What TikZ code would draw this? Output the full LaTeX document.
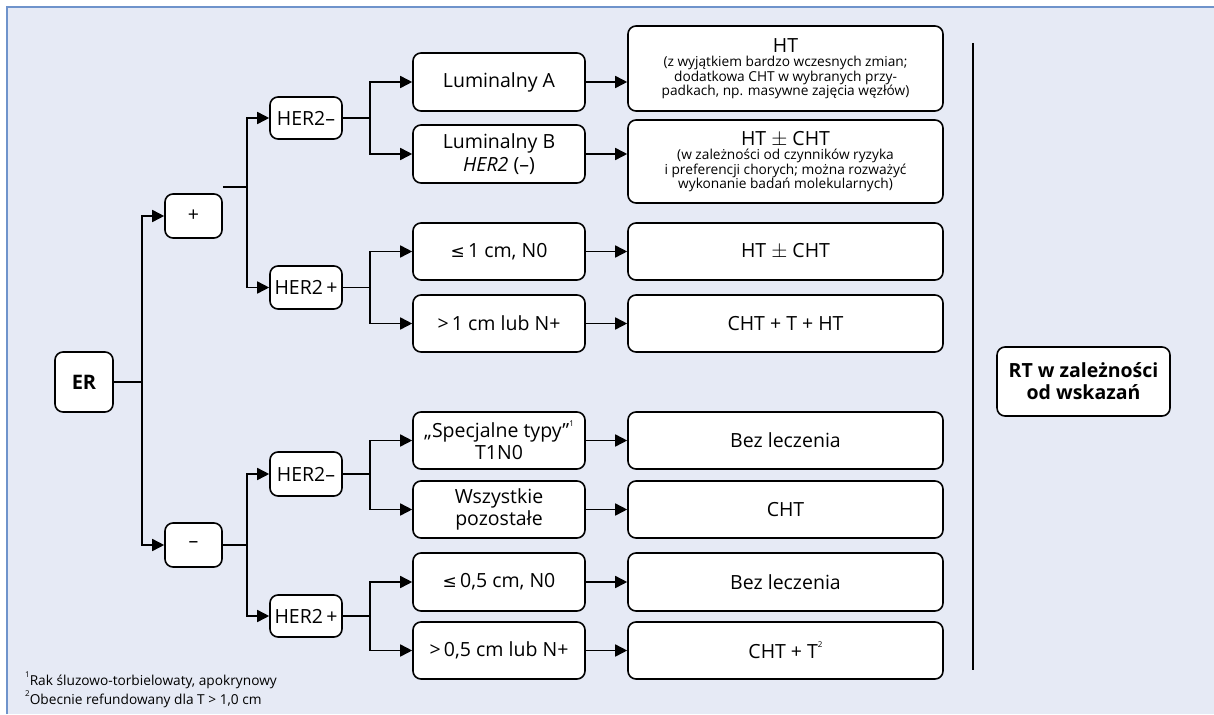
\documentclass[tikz,border=0pt]{standalone}
\usepackage{fontspec}
\setmainfont{Open Sans}
\newfontfamily\djv{DejaVu Sans}
\usetikzlibrary{arrows.meta}
\definecolor{bgc}{HTML}{E6EAF5}
\definecolor{framec}{HTML}{6F93CB}
\newcommand{\smallfnt}{\fontsize{13.7}{14.5}\selectfont}
\newcommand{\supx}[1]{\raisebox{0.55em}{\fontsize{8}{8}\selectfont #1}}
\begin{document}
\begin{tikzpicture}[x=1pt,y=-1pt,
  box/.style={draw=black, line width=1.6pt, fill=white, rounded corners=8pt, align=center,
    inner sep=0pt, font=\fontsize{19.5}{23}\selectfont},
  conn/.style={line width=1.6pt},
  arr/.style={conn, -{Triangle[length=12pt,width=12pt]}},
  fnote/.style={anchor=base west, inner sep=0pt, font=\fontsize{13.7}{14.5}\selectfont}
]
\useasboundingbox (0,0) rectangle (1214,714);
\fill[bgc] (7,7) rectangle (1214,714);
\draw[framec, line width=1.2pt] (7,714) -- (7,7) -- (1214,7);

% level 0-2
\node[box, minimum width=58pt, minimum height=60pt, font=\fontsize{20}{22}\selectfont\bfseries] (er) at (84,382) {ER};
\node[box, minimum width=57pt, minimum height=44pt] (plus) at (193.5,216) {+};
\node[box, minimum width=57pt, minimum height=44pt] (minus) at (193.5,545) {–};
\node[box, minimum width=72pt, minimum height=42pt] (h1) at (306,118) {HER2–};
\node[box, minimum width=72pt, minimum height=43pt] (h2) at (306,287.5) {HER2\,+};
\node[box, minimum width=72pt, minimum height=44pt] (h3) at (306,474) {HER2–};
\node[box, minimum width=72pt, minimum height=42pt] (h4) at (306,616) {HER2\,+};

% middle column
\node[box, minimum width=172pt, minimum height=58pt] (m1) at (499,82) {Luminalny A};
\node[box, minimum width=172pt, minimum height=58pt] (m2) at (499,154) {Luminalny B\\\textit{HER2} (–)};
\node[box, minimum width=172pt, minimum height=57pt] (m3) at (499,251.5) {{\djv\fontsize{17}{19}\selectfont ≤}\,1 cm, N0};
\node[box, minimum width=172pt, minimum height=57pt] (m4) at (499,323.5) {>\,1 cm lub N+};
\node[box, minimum width=172pt, minimum height=57pt, font=\fontsize{19.5}{22}\selectfont] (m5) at (499,440.5) {„Specjalne typy”\supx{1}\\T1N0};
\node[box, minimum width=172pt, minimum height=57pt, font=\fontsize{19.5}{22}\selectfont] (m6) at (499,509.5) {Wszystkie\\pozostałe};
\node[box, minimum width=172pt, minimum height=58pt] (m7) at (499,582) {{\djv\fontsize{17}{19}\selectfont ≤}\,0,5 cm, N0};
\node[box, minimum width=172pt, minimum height=57pt] (m8) at (499,650.5) {>\,0,5 cm lub N+};

% right column
\node[box, minimum width=315pt, minimum height=85pt, font=\smallfnt] (r1) at (785.5,68.5)
  {{\fontsize{19.5}{19}\selectfont HT}\\(z wyjątkiem bardzo wczesnych zmian;\\dodatkowa CHT w wybranych przy-\\padkach, np. masywne zajęcia węzłów)};
\node[box, minimum width=315pt, minimum height=83pt, font=\smallfnt] (r2) at (785.5,161.5)
  {{\fontsize{19.5}{19}\selectfont HT $\pm$ CHT}\\(w zależności od czynników ryzyka\\i preferencji chorych; można rozważyć\\wykonanie badań molekularnych)};
\node[box, minimum width=315pt, minimum height=57pt] (r3) at (785.5,251.5) {HT $\pm$ CHT};
\node[box, minimum width=315pt, minimum height=57pt] (r4) at (785.5,323.5) {CHT + T + HT};
\node[box, minimum width=315pt, minimum height=57pt] (r5) at (785.5,440.5) {Bez leczenia};
\node[box, minimum width=315pt, minimum height=57pt] (r6) at (785.5,509.5) {CHT};
\node[box, minimum width=315pt, minimum height=58pt] (r7) at (785.5,582) {Bez leczenia};
\node[box, minimum width=315pt, minimum height=57pt] (r8) at (785.5,650.5) {CHT + T\supx{2}};

\node[box, minimum width=173pt, minimum height=69pt, font=\fontsize{19.5}{22}\selectfont\bfseries] (rt) at (1083.5,381.5) {RT w zależności\\od wskazań};

% junctions
\coordinate (j0) at (142,382);
\coordinate (j1) at (247,187);
\coordinate (j2) at (247,545);
\coordinate (k1) at (370,118);
\coordinate (k2) at (370,287.5);
\coordinate (k3) at (370,474);
\coordinate (k4) at (370,616);
\coordinate (vt) at (973,43);
\coordinate (vb) at (973,670);

\draw[conn] (er.east) -- (j0);
\draw[arr] (j0) |- (plus.west);
\draw[arr] (j0) |- (minus.west);

\draw[conn] (plus.east |- j1) -- (j1);
\draw[arr] (j1) |- (h1.west);
\draw[arr] (j1) |- (h2.west);
\draw[conn] (minus.east) -- (j2);
\draw[arr] (j2) |- (h3.west);
\draw[arr] (j2) |- (h4.west);

\draw[conn] (h1.east) -- (k1);
\draw[arr] (k1) |- (m1.west);
\draw[arr] (k1) |- (m2.west);
\draw[conn] (h2.east) -- (k2);
\draw[arr] (k2) |- (m3.west);
\draw[arr] (k2) |- (m4.west);
\draw[conn] (h3.east) -- (k3);
\draw[arr] (k3) |- (m5.west);
\draw[arr] (k3) |- (m6.west);
\draw[conn] (h4.east) -- (k4);
\draw[arr] (k4) |- (m7.west);
\draw[arr] (k4) |- (m8.west);

\foreach \i in {1,...,8} {
  \draw[arr] (m\i.east) -- (m\i.east -| r\i.west);
}

\draw[conn] (vt) -- (vb);

% footnotes
\node[fnote] (f1) at (25,685) {\supx{1}Rak śluzowo-torbielowaty, apokrynowy};
\node[fnote] (f2) at (25,704) {\supx{2}Obecnie refundowany dla T > 1,0 cm};
\end{tikzpicture}
\end{document}
